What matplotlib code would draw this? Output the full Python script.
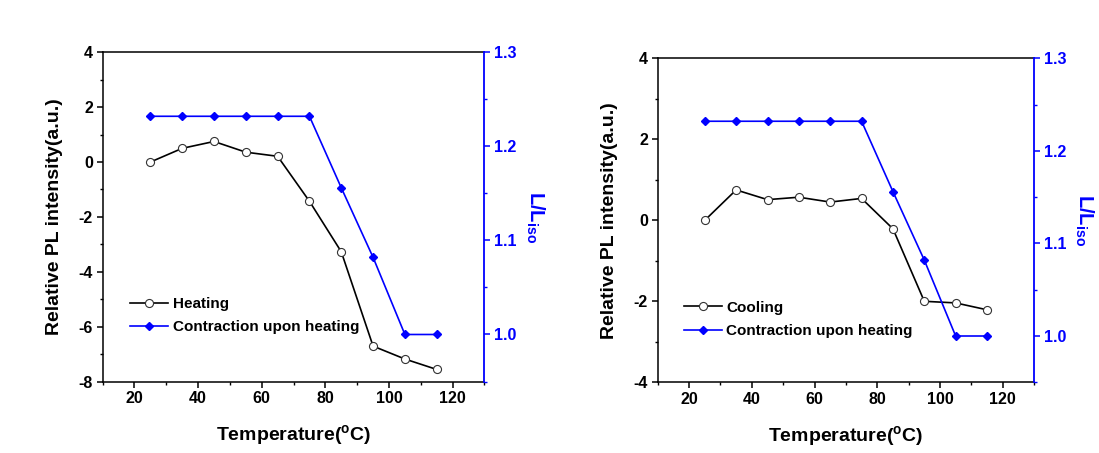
import matplotlib
matplotlib.use('Agg')
import matplotlib.pyplot as plt
from matplotlib.ticker import MultipleLocator, FormatStrFormatter

plt.rcParams['font.family'] = ['Liberation Sans', 'DejaVu Sans']
plt.rcParams['font.weight'] = 'bold'
plt.rcParams['axes.unicode_minus'] = False
plt.rcParams['mathtext.fontset'] = 'custom'
plt.rcParams['mathtext.rm'] = 'Liberation Sans:bold'
plt.rcParams['mathtext.bf'] = 'Liberation Sans:bold'
plt.rcParams['mathtext.it'] = 'Liberation Sans:bold'

# ---- data ----
temperature = [25, 35, 45, 55, 65, 75, 85, 95, 105, 115]
heating_pl = [0.0, 0.50, 0.75, 0.36, 0.21, -1.43, -3.27, -6.71, -7.18, -7.56]
cooling_pl = [0.0, 0.75, 0.51, 0.57, 0.45, 0.54, -0.21, -2.00, -2.04, -2.21]
contraction = [1.232, 1.232, 1.232, 1.232, 1.232, 1.232, 1.156, 1.082, 1.0, 1.0]

pl_labels = ['Heating', 'Cooling']
contraction_label = 'Contraction upon heating'
x_label = r'Temperature($^{\mathbf{o}}$C)'
y_label = 'Relative PL intensity(a.u.)'
y2_label = r'$\mathbf{L/L_{iso}}$'

BLUE = '#0000FF'

fig = plt.figure(figsize=(10.99, 4.53), dpi=100)
fig.patch.set_facecolor('white')

panels = [
    dict(rect=[0.0934, 0.1578, 0.3474, 0.7267], pl=heating_pl, label=pl_labels[0],
         ylim=(-8, 4), leg=(0.071, 0.257)),
    dict(rect=[0.5985, 0.1561, 0.3424, 0.7152], pl=cooling_pl, label=pl_labels[1],
         ylim=(-4, 4), leg=(0.069, 0.252)),
]

for p in panels:
    ax = fig.add_axes(p['rect'])
    ax2 = ax.twinx()
    l1, = ax.plot(temperature, p['pl'], color='black', lw=1.2, marker='o',
                  markersize=5.8, markerfacecolor='white', markeredgecolor='#333333',
                  markeredgewidth=0.8, label=p['label'])
    l2, = ax2.plot(temperature, contraction, color=BLUE, lw=1.2, marker='D',
                   markersize=4.5, markerfacecolor=BLUE, markeredgecolor=BLUE,
                   label=contraction_label)
    ax.set_xlim(10, 130)
    ax.set_ylim(*p['ylim'])
    ax2.set_ylim(0.95, 1.3)

    ax.xaxis.set_major_locator(MultipleLocator(20))
    ax.xaxis.set_minor_locator(MultipleLocator(10))
    ax.yaxis.set_major_locator(MultipleLocator(2))
    ax.yaxis.set_minor_locator(MultipleLocator(1))
    ax2.yaxis.set_major_locator(MultipleLocator(0.1))
    ax2.yaxis.set_minor_locator(MultipleLocator(0.05))
    ax2.yaxis.set_major_formatter(FormatStrFormatter('%.1f'))

    for sp in ['left', 'top', 'bottom']:
        ax.spines[sp].set_linewidth(1.1)
        ax.spines[sp].set_color('black')
    ax.spines['right'].set_visible(False)
    for sp in ['left', 'top', 'bottom']:
        ax2.spines[sp].set_visible(False)
    ax2.spines['right'].set_color(BLUE)
    ax2.spines['right'].set_linewidth(1.3)

    ax.tick_params(axis='both', which='major', direction='out', length=4, width=1.1,
                   labelsize=11.5, pad=3, top=False, right=False)
    ax.tick_params(axis='both', which='minor', direction='out', length=2.4, width=1.0,
                   top=False, right=False)
    ax2.tick_params(axis='y', which='major', direction='out', length=4, width=1.1,
                    labelsize=11.5, pad=3, colors=BLUE)
    ax2.tick_params(axis='y', which='minor', direction='out', length=2.4, width=1.0,
                    colors=BLUE)
    for t in ax.get_xticklabels() + ax.get_yticklabels() + ax2.get_yticklabels():
        t.set_fontweight('bold')

    ax.set_xlabel(x_label, fontsize=14, fontweight='bold', labelpad=12)
    ax.set_ylabel(y_label, fontsize=14, fontweight='bold', labelpad=11)
    ax2.set_ylabel(y2_label, fontsize=14.5, color=BLUE, rotation=270, labelpad=21)

    leg = ax2.legend([l1, l2], [p['label'], contraction_label], loc='upper left',
                     bbox_to_anchor=p['leg'], frameon=False, fontsize=11,
                     numpoints=1, handlelength=2.5, handletextpad=0.3,
                     labelspacing=0.62, borderpad=0, borderaxespad=0)
    for t in leg.get_texts():
        t.set_fontweight('bold')

fig.savefig('out.png', dpi=100, facecolor='white')
